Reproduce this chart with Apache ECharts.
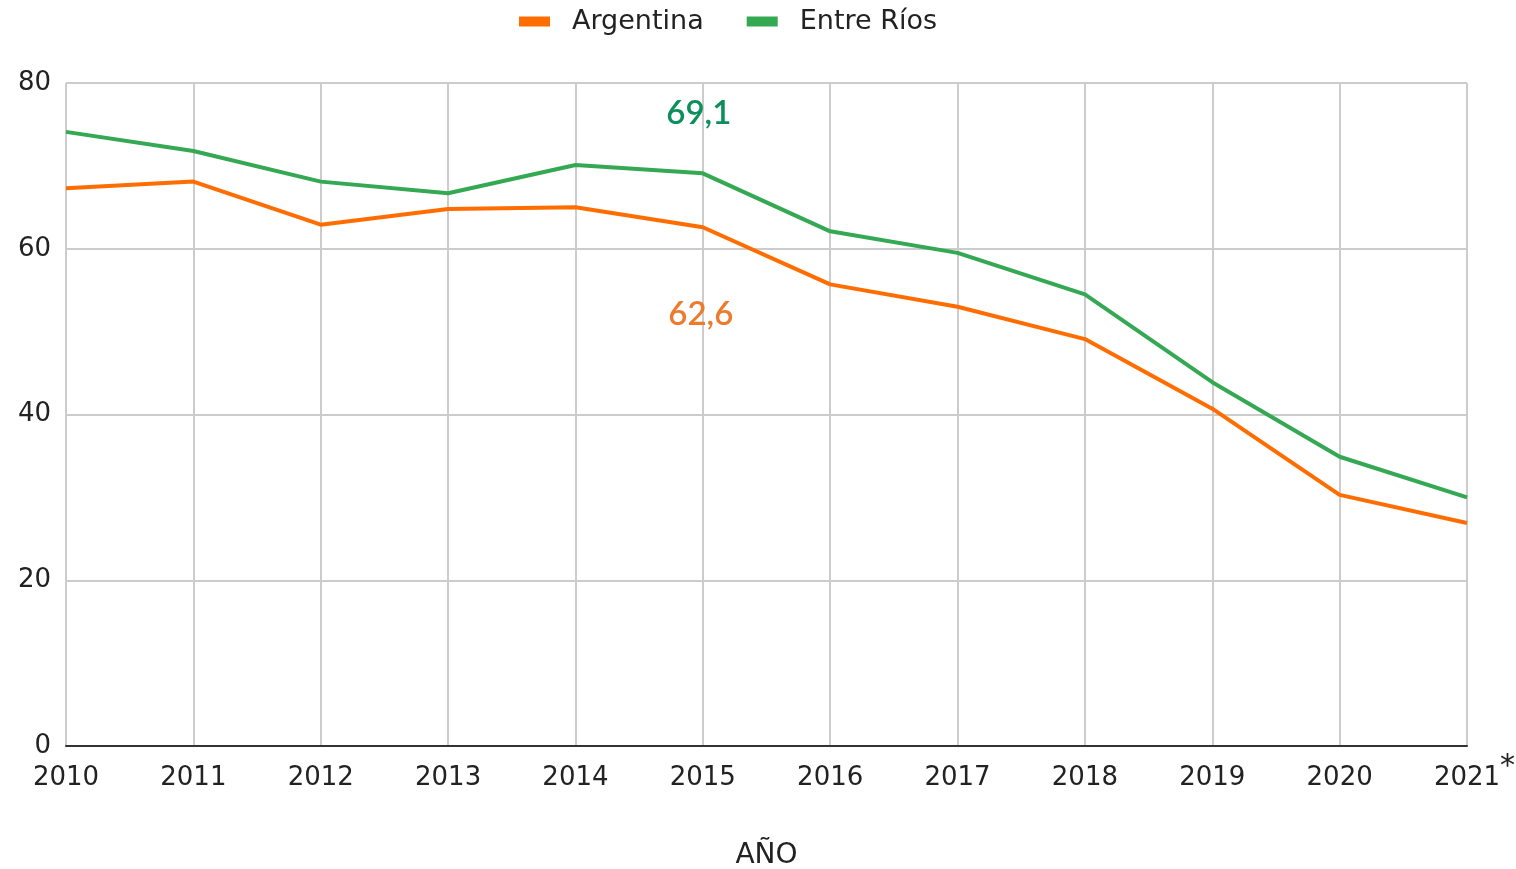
<!DOCTYPE html>
<html><head><meta charset="utf-8">
<script src="https://cdn.jsdelivr.net/npm/echarts@6/dist/echarts.min.js"></script>
<style>html,body{margin:0;padding:0;background:#fff}#c{width:1516px;height:869px}</style>
</head><body><div id="c"></div>
<script>
const years = ['2010','2011','2012','2013','2014','2015','2016','2017','2018','2019','2020','2021'];
const argentina = [67.3, 68.1, 62.9, 64.8, 65.0, 62.6, 55.7, 53.0, 49.1, 40.7, 30.3, 26.9];
const entreRios = [74.1, 71.8, 68.1, 66.7, 70.1, 69.1, 62.1, 59.5, 54.5, 43.9, 34.9, 30.0];
const yTicks = [0, 20, 40, 60, 80];
const labelIndex = 5;

const chart = echarts.init(document.getElementById('c'));
function withLabel(arr, color, offset) {
  return arr.map((v, i) => i === labelIndex ? {
    value: v,
    label: { show: true, position: 'inside', offset: offset, color: color,
      fontFamily: 'Lato', fontWeight: 600, fontSize: 33,
      formatter: p => String(p.value).replace('.', ',') }
  } : v);
}
chart.setOption({
  animation: false,
  textStyle: { fontFamily: '"DejaVu Sans", sans-serif' },
  legend: {
    top: 3, left: 514, itemWidth: 31, itemHeight: 10, itemGap: 43,
    icon: 'rect',
    textStyle: { fontSize: 27, color: '#222', padding: [0, 0, 0, 17] },
    data: ['Argentina', 'Entre Ríos']
  },
  grid: { left: 66, right: 49, top: 83, bottom: 123, containLabel: false, outerBoundsMode: 'none' },
  xAxis: {
    type: 'category', data: years, boundaryGap: false,
    name: 'AÑO', nameLocation: 'middle', nameGap: 96,
    nameTextStyle: { fontSize: 28, color: '#222' },
    axisLine: { lineStyle: { color: '#333', width: 2 } },
    axisTick: { show: false },
    axisLabel: { color: '#222', margin: 10, interval: 0,
      formatter: v => v === '2021' ? '{y2|' + v + '}{s|*}' : '{y|' + v + '}',
      rich: {
        y: { fontSize: 26, lineHeight: 30, color: '#222', padding: [14, 0, 0, 0] },
        y2: { fontSize: 26, lineHeight: 30, color: '#222', padding: [14, 0, 0, 15] },
        s: { fontSize: 30, lineHeight: 30, color: '#222', padding: [0, 0, 8, 0] }
      } },
    splitLine: { show: true, interval: 0, lineStyle: { color: '#ccc', width: 2 } }
  },
  yAxis: {
    type: 'value', min: 0, max: 80, interval: 20,
    axisLine: { show: false }, axisTick: { show: false },
    axisLabel: { fontSize: 26, color: '#222', margin: 15, padding: [5, 0, 0, 0],
      formatter: v => yTicks.includes(v) ? String(v) : '' },
    splitLine: { lineStyle: { color: '#ccc', width: 2 } }
  },
  series: [
    { name: 'Argentina', type: 'line', data: withLabel(argentina, '#ec7b2d', [-2, 87]),
      color: '#ff6d01', lineStyle: { width: 4 }, showSymbol: true, symbol: 'circle', symbolSize: 0.01 },
    { name: 'Entre Ríos', type: 'line', data: withLabel(entreRios, '#0c8f5b', [-4, -60]),
      color: '#34a853', lineStyle: { width: 4 }, showSymbol: true, symbol: 'circle', symbolSize: 0.01 }
  ]
});
</script></body></html>
